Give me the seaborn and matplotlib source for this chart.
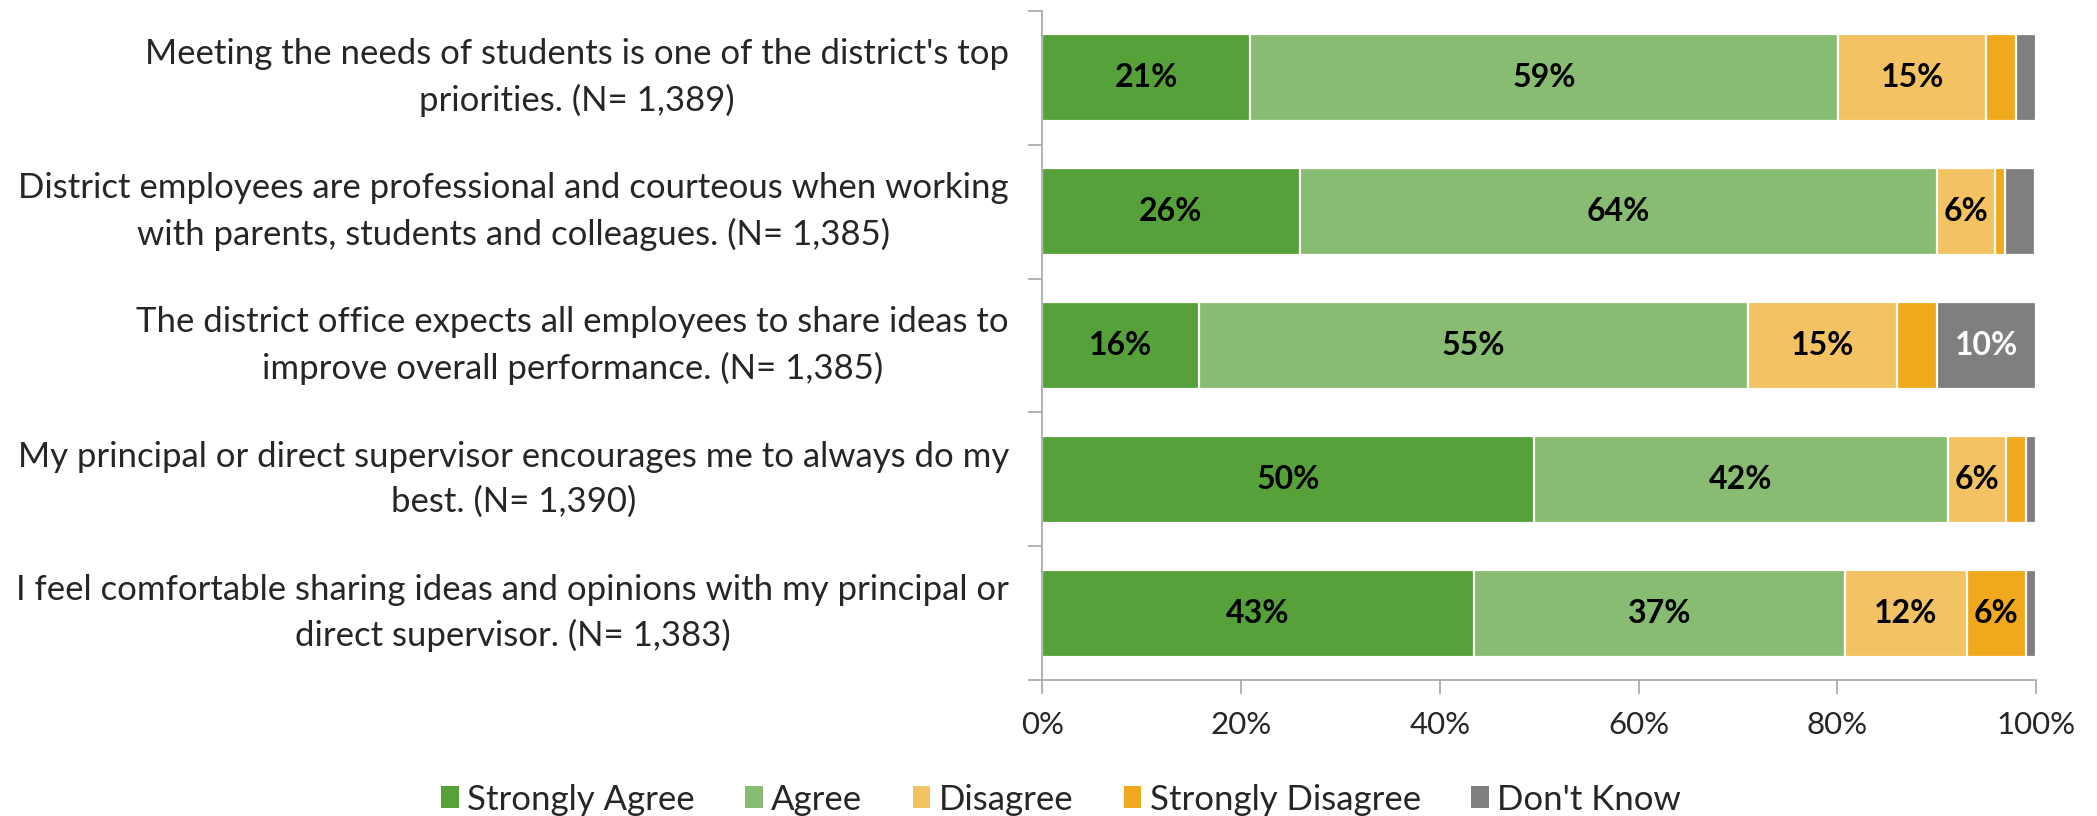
import numpy as np
import pandas as pd
import matplotlib
matplotlib.use("Agg")
import matplotlib.pyplot as plt
import seaborn as sns
from matplotlib.patches import Patch
from matplotlib.ticker import FixedLocator

statements = [
    "Meeting the needs of students is one of the district's top\npriorities. (N= 1,389)",
    "District employees are professional and courteous when working\nwith parents, students and colleagues. (N= 1,385)",
    "The district office expects all employees to share ideas to\nimprove overall performance. (N= 1,385)",
    "My principal or direct supervisor encourages me to always do my\nbest. (N= 1,390)",
    "I feel comfortable sharing ideas and opinions with my principal or\ndirect supervisor. (N= 1,383)",
]
responses = ["Strongly Agree", "Agree", "Disagree", "Strongly Disagree", "Don't Know"]
strongly_agree = [20.9, 25.9, 15.8, 49.5, 43.4]
agree = [59.2, 64.1, 55.2, 41.6, 37.4]
disagree = [14.9, 5.9, 15.0, 5.9, 12.2]
strongly_disagree = [3.0, 1.0, 4.0, 2.0, 6.0]
dont_know = [2.0, 3.0, 10.0, 1.0, 1.0]
xtick_labels = ["0%", "20%", "40%", "60%", "80%", "100%"]

colors = ["#56A13A", "#88BC72", "#F3C262", "#F0A91C", "#7F7F7F"]
label_colors = ["black", "black", "black", "black", "white"]

series = [strongly_agree, agree, disagree, strongly_disagree, dont_know]
df = pd.DataFrame(dict(zip(responses, series)), index=statements)
cum = df.cumsum(axis=1)

sns.set_theme(style="white")
plt.rcParams["font.family"] = ["Lato", "DejaVu Sans"]

fig = plt.figure(figsize=(20.97, 8.16), dpi=100)
ax = fig.add_axes([0.497, 0.1667, 0.474, 0.82])

# Stacked bars: draw cumulative totals from the outermost segment inward
for i in reversed(range(len(responses))):
    d = pd.DataFrame({"statement": statements, "value": cum[responses[i]].values})
    sns.barplot(data=d, x="value", y="statement", orient="h", color=colors[i],
                width=0.65, edgecolor="white", linewidth=1.6, saturation=1,
                ax=ax, order=statements)

# Value labels for segments of 5% or more
for i, resp in enumerate(responses):
    for j, st in enumerate(statements):
        v = df.loc[st, resp]
        if v >= 5:
            center = cum.loc[st, resp] - v / 2
            ax.text(center, j, f"{v:.0f}%", ha="center", va="center",
                    fontsize=23, fontweight="bold", color=label_colors[i])

ax.set_xlim(0, 100)
ax.set_ylim(len(statements) - 0.5, -0.5)
ax.set_xticks(np.arange(0, 101, 20))
ax.set_xticklabels(xtick_labels, fontsize=22.5)
ax.set_xlabel("")
ax.set_ylabel("")
ax.set_yticks(range(len(statements)))
ax.set_yticklabels(statements, fontsize=25, ha="right", va="center",
                   multialignment="center", linespacing=1.5)

ax.yaxis.set_minor_locator(FixedLocator(np.arange(-0.5, len(statements), 1)))
ax.tick_params(axis="y", which="major", length=0, pad=24)
ax.tick_params(axis="y", which="minor", length=10, width=1.2, color="#A6A6A6", left=True)
ax.tick_params(axis="x", which="major", length=10, width=1.2, color="#A6A6A6",
               bottom=True, pad=12)

for s in ["top", "right"]:
    ax.spines[s].set_visible(False)
for s in ["left", "bottom"]:
    ax.spines[s].set_visible(True)
    ax.spines[s].set_color("#A6A6A6")
    ax.spines[s].set_linewidth(1.2)
ax.spines["left"].set_zorder(5)

handles = [Patch(facecolor=c, edgecolor="none") for c in colors]
fig.legend(handles, responses, loc="center", bbox_to_anchor=(0.506, 0.02),
           ncol=5, frameon=False, fontsize=25, handlelength=0.5, handleheight=0.6,
           handletextpad=0.25, columnspacing=1.45)

fig.savefig("out.png", dpi=100)
